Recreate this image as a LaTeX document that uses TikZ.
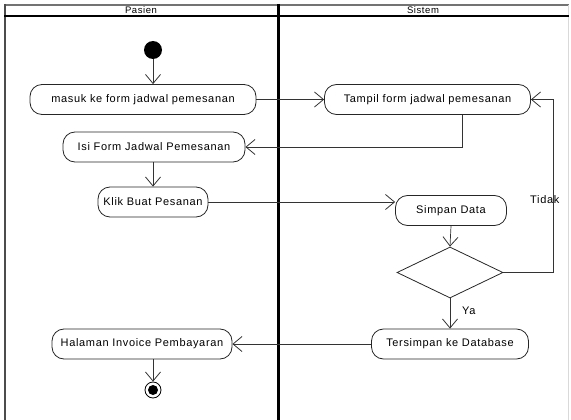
\documentclass[tikz,border=0pt]{standalone}
\usepackage{fontspec}
\setmainfont{Liberation Sans}
\usetikzlibrary{arrows.meta,shapes.geometric}

\tikzset{
  act/.style={draw=black!85, line width=0.8pt, rounded corners=12pt, fill=white,
    minimum height=30pt, inner sep=0pt, font=\actfont},
  flow/.style={draw=black!80, line width=0.7pt,
    -{Straight Barb[length=9pt,width=15pt,line width=0.8pt]}},
  lbl/.style={font=\actfont, inner sep=0pt},
}
\newfontfamily\actfontfamily[LetterSpace=6]{Liberation Sans}
\newcommand{\actfont}{\actfontfamily\fontsize{11}{13}\selectfont}

\begin{document}
\begin{tikzpicture}[x=1pt, y=-1pt]
  \useasboundingbox (0,0) rectangle (571,420);

  % swimlane frame
  \draw[black!55, line width=1.8pt] (4,5) -- (569,5);
  \draw[black!70, line width=2.6pt] (5,4) -- (5,420);
  \draw[black!15, line width=0.8pt] (568,5) -- (568,420);
  \draw[black, line width=2pt] (4,16) -- (569,16);
  \draw[black, line width=3pt] (278,4) -- (278,420);
  \node[font=\actfontfamily\fontsize{9.5}{10}\selectfont, inner sep=0pt] (lanep) at (141,10.5) {Pasien};
  \node[font=\actfontfamily\fontsize{9.5}{10}\selectfont, inner sep=0pt] (lanes) at (423,10.5) {Sistem};

  % start / end
  \node[circle, fill=black, minimum size=18pt, inner sep=0pt] (start) at (153,50) {};
  \node[circle, draw=black, line width=0.8pt, minimum size=16pt, inner sep=0pt] (end) at (153,390) {};
  \node[circle, fill=black, minimum size=10pt, inner sep=0pt] (endin) at (153,390) {};

  % activities
  \node[act, minimum width=226pt] (masuk) at (143,99.5) {masuk ke form jadwal pemesanan};
  \node[act, minimum width=182pt] (isi) at (154,147) {Isi Form Jadwal Pemesanan};
  \node[act, minimum width=110pt] (klik) at (153,202) {Klik Buat Pesanan};
  \node[act, minimum width=206pt] (tampil) at (427.5,99.5) {Tampil form jadwal pemesanan};
  \node[act, minimum width=111pt] (simpan) at (451,210.5) {Simpan Data};
  \node[draw=black!85, line width=0.8pt, diamond, aspect=2.08, minimum width=106pt,
        minimum height=51pt, inner sep=0pt] (dec) at (450,272.5) {};
  \node[act, minimum width=157pt] (tersimpan) at (450,344) {Tersimpan ke Database};
  \node[act, minimum width=180pt] (halaman) at (142,344) {Halaman Invoice Pembayaran};

  % flows
  \draw[flow] (start) -- (masuk.north -| start);
  \draw[flow] (masuk.east) -- (tampil.west);
  \draw[flow] (tampil.south -| 462,0) |- (isi.east);
  \draw[flow] (isi.south -| 153,0) -- (klik.north -| 153,0);
  \draw[flow] (klik.east) -- (simpan.west |- klik.east);
  \draw[flow] (simpan.south) -- (dec.north);
  \coordinate (turn) at (553,272.5);
  \draw[flow] (dec.east) -- (turn) |- (tampil.east);
  \draw[flow] (dec.south) -- (tersimpan.north);
  \draw[flow] (tersimpan.west) -- (halaman.east);
  \draw[flow] (halaman.south -| 153,0) -- (end.north);

  % guards
  \node[lbl, anchor=west] (tidak) at (530,200) {Tidak};
  \node[lbl, anchor=west] (ya) at (462,311) {Ya};
\end{tikzpicture}
\end{document}
